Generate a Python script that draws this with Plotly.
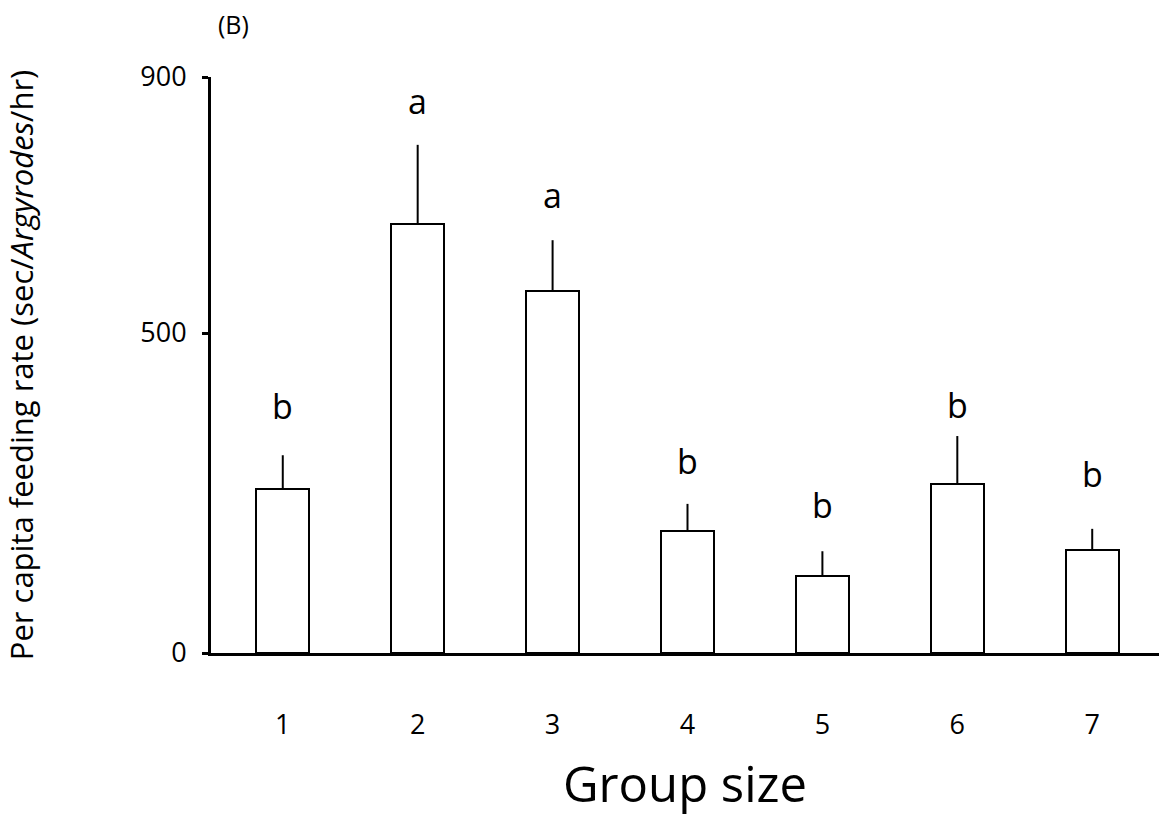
import plotly.graph_objects as go

group_size = [1, 2, 3, 4, 5, 6, 7]
tick_labels = ["1", "2", "3", "4", "5", "6", "7"]
feeding_rate = [256, 670, 566, 191, 120, 264, 161]
error_upper = [53, 124, 79, 42, 39, 75, 33]
letters = ["b", "a", "a", "b", "b", "b", "b"]
letter_height = [347, 823, 677, 261, 192, 349, 240]  # where each significance letter sits (data units)

FONT = "Open Sans"

fig = go.Figure()
fig.add_trace(go.Bar(
    x=group_size,
    y=feeding_rate,
    width=0.39,
    marker=dict(color="white", line=dict(color="black", width=2)),
    error_y=dict(type="data", array=error_upper, arrayminus=[0] * len(error_upper),
                 symmetric=False, width=0, thickness=2, color="black"),
    showlegend=False,
))

for xv, ly, lt in zip(group_size, letter_height, letters):
    fig.add_annotation(x=xv, y=ly, text=lt, showarrow=False,
                       yanchor="bottom",
                       font=dict(family=FONT, size=34, color="black"))

fig.add_annotation(x=0.005, y=1.0, xref="paper", yref="paper", xanchor="left", yanchor="bottom",
                   text="(B)", showarrow=False, yshift=34,
                   font=dict(family=FONT, size=25, color="black"))

fig.update_layout(
    width=1159, height=816,
    margin=dict(l=211, r=0, t=77, b=163),
    plot_bgcolor="white", paper_bgcolor="white",
    font=dict(family=FONT, color="black"),
    bargap=0,
    xaxis=dict(
        range=[0.468, 7.495],
        tickmode="array", tickvals=group_size, ticktext=tick_labels,
        showline=True, linecolor="black", linewidth=3,
        ticks="", showgrid=False, zeroline=False,
        tickfont=dict(family=FONT, size=27, color="black"),
        ticklabelstandoff=46,
        title=dict(text="Group size", font=dict(family=FONT, size=49, color="black"), standoff=27),
    ),
    yaxis=dict(
        range=[0, 900],
        tickmode="array", tickvals=[0, 500, 900], ticktext=["0", "500", "900"],
        showline=True, linecolor="black", linewidth=3,
        ticks="outside", ticklen=6, tickwidth=3, tickcolor="black",
        showgrid=False, zeroline=False,
        tickfont=dict(family=FONT, size=27, color="black"),
        ticklabelstandoff=10,
        title=dict(text="Per capita feeding rate (sec/<i>Argyrodes</i>/hr)",
                   font=dict(family=FONT, size=31, color="black"), standoff=98),
    ),
)

fig.write_html("out.html")
